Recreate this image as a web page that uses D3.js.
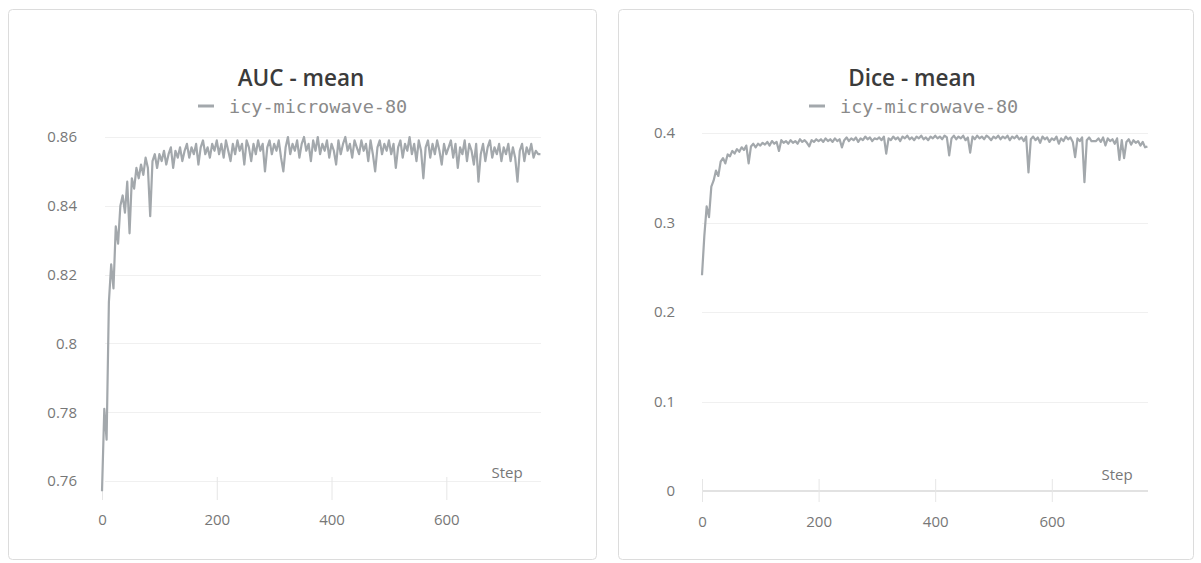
<!DOCTYPE html>
<meta charset="utf-8">
<style>
body { margin: 0; background: #fff; }
.card { fill: #fff; stroke: #dcdcdc; stroke-width: 1; }
.title { font-family: "Open Sans", sans-serif; font-size: 22.5px; font-weight: 600; fill: #3b3b3b; text-anchor: middle; }
.legend { font-family: "DejaVu Sans Mono", monospace; font-size: 18.5px; fill: #8a8a8a; }
.tick text { font-family: "Open Sans", sans-serif; font-size: 15px; fill: #777; }
.grid line { stroke: #f0f0f0; stroke-width: 1; }
.xaxis line { stroke: #e3e3e3; }
.step { font-family: "Open Sans", sans-serif; font-size: 15px; fill: #777; text-anchor: middle; }
.run { fill: none; stroke: #a3a8ac; stroke-width: 2.2; stroke-linejoin: round; }
</style>
<body>
<script src="https://cdn.jsdelivr.net/npm/d3@7"></script>
<script>
// logged every 4 steps
var stepEvery = 4;
var runName = "icy-microwave-80";
var xTicks = [0, 200, 400, 600];

var aucTicks = [0.76, 0.78, 0.8, 0.82, 0.84, 0.86];
var aucMean = [
  0.757, 0.781, 0.772, 0.812, 0.823, 0.816, 0.834, 0.829, 0.840, 0.843, 0.838, 0.847, 0.832,
  0.848, 0.845, 0.851, 0.848, 0.852, 0.849, 0.854, 0.851, 0.837, 0.853, 0.855, 0.851, 0.855,
  0.853, 0.856, 0.852, 0.855, 0.857, 0.851, 0.856, 0.854, 0.857, 0.853, 0.856, 0.858, 0.854,
  0.857, 0.855, 0.858, 0.852, 0.857, 0.859, 0.855, 0.857, 0.854, 0.858, 0.856, 0.859,
  0.855, 0.858, 0.854, 0.859, 0.856, 0.853, 0.858, 0.855, 0.859, 0.856, 0.858, 0.852, 0.859,
  0.857, 0.853, 0.858, 0.855, 0.859, 0.856, 0.858, 0.850, 0.857, 0.859, 0.855, 0.858,
  0.856, 0.859, 0.854, 0.850, 0.857, 0.860, 0.855, 0.858, 0.856, 0.859, 0.854, 0.858, 0.860,
  0.856, 0.858, 0.853, 0.859, 0.856, 0.860, 0.855, 0.858, 0.856, 0.859, 0.854, 0.858,
  0.856, 0.852, 0.859, 0.855, 0.858, 0.860, 0.856, 0.858, 0.854, 0.859, 0.857, 0.855, 0.859,
  0.856, 0.858, 0.853, 0.859, 0.855, 0.850, 0.857, 0.859, 0.855, 0.858, 0.856, 0.859,
  0.855, 0.858, 0.851, 0.857, 0.859, 0.854, 0.858, 0.856, 0.860, 0.855, 0.858, 0.853, 0.859,
  0.856, 0.848, 0.857, 0.859, 0.854, 0.858, 0.855, 0.859, 0.856, 0.852, 0.858, 0.855,
  0.857, 0.859, 0.854, 0.858, 0.851, 0.857, 0.855, 0.859, 0.853, 0.858, 0.856, 0.852, 0.858,
  0.847, 0.855, 0.858, 0.853, 0.857, 0.859, 0.854, 0.857, 0.855, 0.858, 0.853, 0.857,
  0.855, 0.858, 0.853, 0.857, 0.854, 0.847, 0.856, 0.858, 0.853, 0.857, 0.855, 0.858, 0.854,
  0.856, 0.855, 0.855
];

var diceTicks = [0, 0.1, 0.2, 0.3, 0.4];
var diceMean = [
  0.241, 0.285, 0.318, 0.306, 0.340, 0.347, 0.358, 0.352, 0.368, 0.372, 0.366, 0.376, 0.374,
  0.380, 0.377, 0.382, 0.379, 0.384, 0.381, 0.386, 0.366, 0.385, 0.388, 0.384, 0.388, 0.386,
  0.389, 0.387, 0.390, 0.386, 0.391, 0.388, 0.390, 0.380, 0.392, 0.389, 0.391, 0.388, 0.392,
  0.389, 0.391, 0.388, 0.393, 0.390, 0.392, 0.389, 0.385, 0.392, 0.390, 0.393, 0.391,
  0.393, 0.390, 0.394, 0.391, 0.393, 0.390, 0.394, 0.391, 0.393, 0.384, 0.392, 0.395, 0.391,
  0.394, 0.392, 0.395, 0.390, 0.394, 0.392, 0.396, 0.393, 0.395, 0.391, 0.394, 0.393,
  0.395, 0.392, 0.396, 0.377, 0.394, 0.392, 0.396, 0.393, 0.395, 0.391, 0.396, 0.394, 0.397,
  0.393, 0.395, 0.392, 0.396, 0.394, 0.397, 0.393, 0.395, 0.392, 0.396, 0.394, 0.397,
  0.394, 0.396, 0.393, 0.397, 0.395, 0.375, 0.394, 0.397, 0.393, 0.396, 0.394, 0.397, 0.392,
  0.395, 0.378, 0.396, 0.393, 0.397, 0.394, 0.396, 0.393, 0.397, 0.395, 0.392, 0.396,
  0.394, 0.397, 0.393, 0.396, 0.394, 0.397, 0.392, 0.396, 0.394, 0.397, 0.393, 0.395, 0.391,
  0.396, 0.356, 0.393, 0.396, 0.392, 0.395, 0.389, 0.396, 0.393, 0.395, 0.390, 0.394,
  0.392, 0.396, 0.388, 0.394, 0.391, 0.396, 0.393, 0.395, 0.390, 0.373, 0.394, 0.391, 0.395,
  0.345, 0.392, 0.395, 0.391, 0.391, 0.391, 0.394, 0.390, 0.395, 0.386, 0.394, 0.391,
  0.393, 0.388, 0.394, 0.370, 0.392, 0.372, 0.390, 0.393, 0.387, 0.392, 0.389, 0.391, 0.386,
  0.390, 0.384, 0.385
];

var svg = d3.select("body").append("svg")
    .attr("width", 1201)
    .attr("height", 563);

function panel(opt) {
  var g = svg.append("g");

  g.append("rect").attr("class", "card")
      .attr("x", opt.card[0] + 0.5).attr("y", opt.card[1] + 0.5)
      .attr("width", opt.card[2]).attr("height", opt.card[3])
      .attr("rx", 4);

  var x = d3.scaleLinear().domain([0, 765]).range(opt.xr);
  var y = d3.scaleLinear().domain(opt.yd).range(opt.yr);

  // horizontal grid
  g.append("g").attr("class", "grid")
    .selectAll("line").data(opt.yticks).enter().append("line")
      .attr("x1", x(0) + opt.gridInset).attr("x2", opt.xr[1])
      .attr("y1", function(d) { return Math.round(y(d)) + 0.5; })
      .attr("y2", function(d) { return Math.round(y(d)) + 0.5; });

  // y labels
  g.append("g")
      .attr("transform", "translate(" + (x(0) + opt.gridInset) + ",0)")
      .call(d3.axisLeft(y).tickValues(opt.yticks).tickSize(0).tickPadding(opt.ypad).tickFormat(d3.format("")))
      .call(function(a) { a.select(".domain").remove(); });

  // zero axis line (Dice only)
  if (opt.zeroLine) {
    g.append("line")
        .attr("x1", x(0)).attr("x2", opt.xr[1])
        .attr("y1", y(0)).attr("y2", y(0))
        .style("stroke", "#e2e2e2").style("stroke-width", 2);
  }

  // x ticks + labels
  var xa = g.append("g").attr("class", "xaxis")
      .attr("transform", "translate(0," + opt.xTickTop + ")")
      .call(d3.axisBottom(x).tickValues(xTicks).tickSize(23).tickPadding(14));
  xa.select(".domain").remove();
  xa.selectAll(".tick line").style("stroke", "#e6e6e6");

  g.append("text").attr("class", "step")
      .attr("x", opt.stepX).attr("y", opt.xTickTop + 1)
      .text("Step");

  var line = d3.line()
      .x(function(d, i) { return x(i * stepEvery); })
      .y(function(d) { return y(d); });

  g.append("path").datum(opt.values)
      .attr("class", "run")
      .attr("d", line);

  // title + legend
  g.append("text").attr("class", "title")
      .attr("x", opt.titleX).attr("y", 86)
      .text(opt.title);

  g.append("line")
      .attr("x1", opt.legendX).attr("x2", opt.legendX + 16)
      .attr("y1", 106).attr("y2", 106)
      .style("stroke", "#a3a8ac").style("stroke-width", 3);
  g.append("text").attr("class", "legend")
      .attr("x", opt.legendX + 31).attr("y", 113)
      .text(runName);
}

panel({
  card: [8, 9, 588, 550],
  title: "AUC - mean", titleX: 301, legendX: 198,
  values: aucMean, yticks: aucTicks,
  yd: [0.76, 0.86], yr: [481, 137],
  xr: [102, 541], gridInset: 3, ypad: 28,
  xTickTop: 477, stepX: 507, zeroLine: false
});

panel({
  card: [618, 9, 575, 550],
  title: "Dice - mean", titleX: 912, legendX: 809,
  values: diceMean, yticks: diceTicks,
  yd: [0, 0.4], yr: [491, 133],
  xr: [702, 1148], gridInset: 0, ypad: 27,
  xTickTop: 479, stepX: 1117, zeroLine: true
});
</script>
</body>
